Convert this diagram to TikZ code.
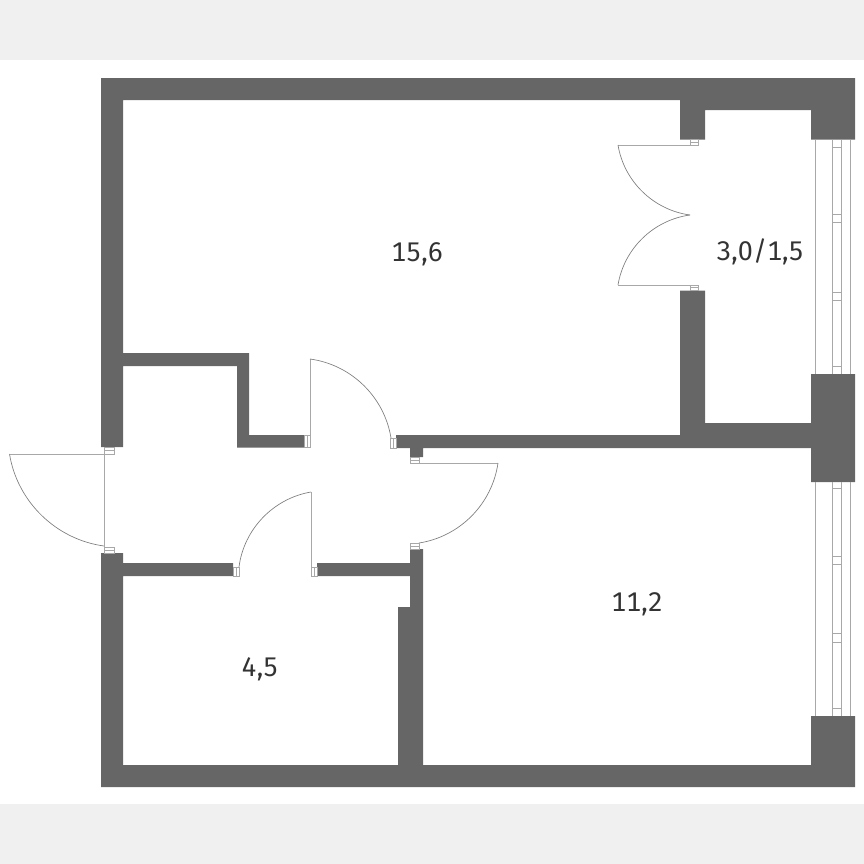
\documentclass[tikz,border=0pt]{standalone}
\usepackage{fontspec}
\setmainfont{Fira Sans}[Numbers=Monospaced]
\definecolor{wallgray}{HTML}{666666}
\definecolor{bandgray}{HTML}{F0F0F0}
\definecolor{doorgray}{HTML}{8C8C8C}
\definecolor{sashgray}{HTML}{A8A8A8}
\definecolor{textgray}{HTML}{333333}
\tikzset{
    wall/.style={fill=wallgray, draw=none},
    leaf/.style={draw=sashgray, line width = 0.3mm},
    swing/.style={draw=doorgray!90!black, line width = 0.2mm, looseness=0.94},
    hinge/.style={draw=sashgray, line width = 0.15mm},
    sash/.style={draw=sashgray, line width = 0.25mm},
    area/.style={font=\fontsize{23}{23}\selectfont, text=textgray, inner sep=0pt}
}
\begin{document}
\begin{tikzpicture}[x=0.03cm, y=-0.03cm]
    \useasboundingbox (0,0) rectangle (864,864);
    \fill[bandgray] (0,0) rectangle (864,60);
    \fill[bandgray] (0,804) rectangle (864,864);

    %walls
    \fill[wall] (101,78) -- (855,78) -- (855,139.5) -- (811,139.5) -- (811,110) -- (705,110) -- (705,139.5) -- (680,139.5) -- (680,100) -- (123,100) -- (123,353) -- (249,353) -- (249,435) -- (304,435) -- (304,447.5) -- (237,447.5) -- (237,366) -- (123,366) -- (123,447) -- (101,447) -- cycle;
    \fill[wall] (396,435) -- (680,435) -- (680,290.5) -- (705,290.5) -- (705,423) -- (811,423) -- (811,374) -- (855,374) -- (855,482) -- (811,482) -- (811,448) -- (423,448) -- (423,457) -- (410,457) -- (410,448) -- (396,448) -- cycle;
    \fill[wall] (101,553) -- (123,553) -- (123,563) -- (233,563) -- (233,576) -- (123,576) -- (123,765) -- (398,765) -- (398,607) -- (410,607) -- (410,576) -- (317,576) -- (317,563) -- (410,563) -- (410,549) -- (423,549) -- (423,765) -- (811,765) -- (811,716) -- (855,716) -- (855,787) -- (101,787) -- cycle;

    %windows
    \foreach \ya/\yb in {139.5/374, 482/716} {
        \draw[sash] (815,\ya) -- (815,\yb);
        \draw[sash] (832.7,\ya) -- (832.7,\yb);
        \draw[sash] (841.3,\ya) -- (841.3,\yb);
        \draw[sash] (850,\ya) -- (850,\yb);
    }
    \foreach \y in {147,214,222,292,300,366,488,556,564,633,642,708} {
        \draw[hinge] (832,\y) -- (842,\y);
    }

    %balcony doors
    \draw[leaf] (690,145) -- (618,145);
    \draw[swing] (618,145) to[bend right=36.5] (690,215);
    \draw[leaf] (690,285) -- (618,285);
    \draw[swing] (618,285) to[bend left=36.5] (690,215);
    \draw[hinge] (690,139.5) rectangle (698,145) (690,142.2) -- (698,142.2);
    \draw[hinge] (690,285) rectangle (698,290.5) (690,287.7) -- (698,287.7);

    %entrance door
    \draw[leaf] (104,454) -- (9.5,454);
    \draw[swing] (9.5,454) to[bend right=36.5] (104,546);
    \draw[hinge] (104,454) -- (104,547);
    \draw[hinge] (104,447.5) rectangle (114,454) (104,450.7) -- (114,450.7);
    \draw[hinge] (104,547) rectangle (114,553) (104,550) -- (114,550);

    %room door
    \draw[leaf] (310,438) -- (310,359);
    \draw[swing] (310,359) to[bend left=36.5] (391,438);
    \draw[hinge] (304,435) rectangle (310,447.5) (307,435) -- (307,447.5);
    \draw[hinge] (390.5,438) rectangle (396,448) (393.2,438) -- (393.2,448);

    %bedroom door
    \draw[leaf] (419,463) -- (498,463);
    \draw[swing] (498,463) to[bend left=36.5] (419,543);
    \draw[hinge] (410,457) rectangle (419,463) (410,460) -- (419,460);
    \draw[hinge] (410,543) rectangle (419,549) (410,546) -- (419,546);

    %bathroom door
    \draw[leaf] (311,567) -- (311,492);
    \draw[swing] (311,492) to[bend right=36.5] (239,567);
    \draw[hinge] (311,567) rectangle (317,576) (314,567) -- (314,576);
    \draw[hinge] (233,567) rectangle (239,576) (236,567) -- (236,576);

    \node[area] (livingroom) at (417,254) {15,6};
    \node[area] (balcony) at (760,252) {3,0/1,5};
    \node[area] (bedroom) at (637,604) {11,2};
    \node[area] (bathroom) at (260,669) {4,5};
\end{tikzpicture}
\end{document}
